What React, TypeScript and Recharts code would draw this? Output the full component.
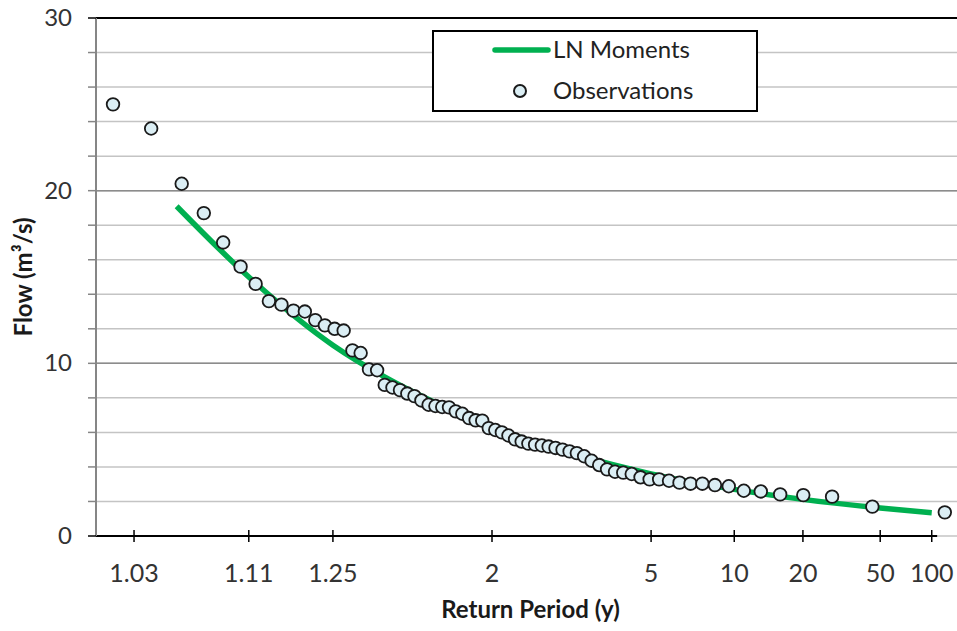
import React from 'react';
import { ComposedChart, Line, Scatter, XAxis, YAxis, CartesianGrid, ReferenceLine, Legend } from 'recharts';

// Return-period ticks on the probability axis
const tickPeriods = [1.03, 1.11, 1.25, 2, 5, 10, 20, 50, 100];
const tickLabels = ['1.03', '1.11', '1.25', '2', '5', '10', '20', '50', '100'];

const flowTicks = [0, 2, 4, 6, 8, 10, 12, 14, 16, 18, 20, 22, 24, 26, 28, 30];
const flowLabels = [0, 10, 20, 30];

// Observed flows and their plotting-position return periods
const obsPeriods = [
  1.023, 1.037, 1.053, 1.068, 1.084, 1.101, 1.118, 1.135, 1.153, 1.172,
  1.192, 1.212, 1.232, 1.254, 1.276, 1.299, 1.322, 1.347, 1.373, 1.399,
  1.427, 1.456, 1.486, 1.517, 1.549, 1.584, 1.619, 1.656, 1.695, 1.736,
  1.778, 1.824, 1.871, 1.921, 1.973, 2.028, 2.087, 2.149, 2.215, 2.285,
  2.36, 2.44, 2.525, 2.616, 2.714, 2.821, 2.935, 3.06, 3.195, 3.343,
  3.505, 3.685, 3.882, 4.103, 4.35, 4.63, 4.946, 5.311, 5.731, 6.227,
  6.812, 7.525, 8.396, 9.506, 10.94, 12.9, 15.7, 20.08, 27.78, 45.25, 120.5,
];
const obsFlows = [
  25.0, 23.6, 20.4, 18.7, 17.0, 15.6, 14.6, 13.6, 13.4, 13.05,
  13.0, 12.5, 12.2, 12.0, 11.9, 10.75, 10.6, 9.65, 9.6, 8.75,
  8.6, 8.45, 8.25, 8.1, 7.85, 7.6, 7.53, 7.47, 7.45, 7.22,
  7.08, 6.83, 6.7, 6.68, 6.25, 6.14, 6.0, 5.82, 5.6, 5.47,
  5.35, 5.29, 5.24, 5.18, 5.1, 5.0, 4.9, 4.8, 4.62, 4.36,
  4.11, 3.86, 3.72, 3.67, 3.59, 3.4, 3.28, 3.28, 3.2, 3.09,
  3.03, 3.03, 2.95, 2.88, 2.62, 2.58, 2.41, 2.37, 2.28, 1.7, 1.37,
];

// Lognormal (moments) fitted curve
const fitPeriods = [1.05, 1.11, 1.25, 1.4, 1.6, 2, 3, 5, 10, 20, 50, 100];
const fitFlows = [19.1, 15.0, 11.05, 9.2, 7.82, 6.3, 4.75, 3.6, 2.7, 2.12, 1.62, 1.35];

// inverse standard normal CDF (Acklam)
function probit(p: number): number {
  const a = [-39.69683028665376, 220.9460984245205, -275.9285104469687, 138.357751867269, -30.66479806614716, 2.506628277459239];
  const b = [-54.47609879822406, 161.5858368580409, -155.6989798598866, 66.80131188771972, -13.28068155288572];
  const c = [-0.007784894002430293, -0.3223964580411365, -2.400758277161838, -2.549732539343734, 4.374664141464968, 2.938163982698783];
  const d = [0.007784695709041462, 0.3224671290700398, 2.445134137142996, 3.754408661907416];
  const pl = 0.02425;
  if (p < pl) {
    const q = Math.sqrt(-2 * Math.log(p));
    return (((((c[0] * q + c[1]) * q + c[2]) * q + c[3]) * q + c[4]) * q + c[5]) / ((((d[0] * q + d[1]) * q + d[2]) * q + d[3]) * q + 1);
  }
  if (p <= 1 - pl) {
    const q = p - 0.5;
    const r = q * q;
    return ((((((a[0] * r + a[1]) * r + a[2]) * r + a[3]) * r + a[4]) * r + a[5]) * q) / (((((b[0] * r + b[1]) * r + b[2]) * r + b[3]) * r + b[4]) * r + 1);
  }
  const q = Math.sqrt(-2 * Math.log(1 - p));
  return -(((((c[0] * q + c[1]) * q + c[2]) * q + c[3]) * q + c[4]) * q + c[5]) / ((((d[0] * q + d[1]) * q + d[2]) * q + d[3]) * q + 1);
}

const toZ = (T: number) => probit(1 - 1 / T);

const obsData = obsPeriods.map((T, i) => ({ z: toZ(T), flow: obsFlows[i] }));
const fitData = fitPeriods.map((T, i) => ({ z: toZ(T), flow: fitFlows[i] }));
const tickZ = tickPeriods.map(toZ);

const X_MIN = -2.095;
const X_MAX = 2.46;
const AXIS_END = 2.355;

const FONT = 'Lato, "Open Sans", sans-serif';

const PeriodTick = (props: any) => {
  const { x, y, index } = props;
  return (
    <g>
      <line x1={x} x2={x} y1={y - 6} y2={y + 6} stroke="#000" strokeWidth={1.5} />
      <text x={x} y={y + 46} textAnchor="middle" fontSize={25} fontFamily={FONT} fill="#333">
        {tickLabels[index]}
      </text>
    </g>
  );
};

const FlowTick = (props: any) => {
  const { x, y, payload } = props;
  const v = payload.value;
  const dark = v === 0 || v === 30;
  return (
    <g>
      <line x1={x - 8} x2={x} y1={y} y2={y} stroke={dark ? '#000' : '#868686'} strokeWidth={1.5} />
      {flowLabels.includes(v) && (
        <text x={x - 24} y={y + 8} textAnchor="end" fontSize={24} fontFamily={FONT} fill="#333">
          {v}
        </text>
      )}
    </g>
  );
};

const LegendBox = () => (
  <div style={{ width: 322, height: 78, border: '2px solid #000', background: '#fff' }}>
    <svg width={322} height={78} style={{ display: 'block' }}>
      <line x1={61} x2={114} y1={18} y2={18} stroke="#00b050" strokeWidth={5.5} strokeLinecap="round" />
      <text x={119} y={26} fontSize={24} fontFamily={FONT} fill="#222">LN Moments</text>
      <circle cx={86} cy={59} r={6} fill="#dbeef4" stroke="#1a1a1a" strokeWidth={2} />
      <text x={119} y={67} fontSize={24} fontFamily={FONT} fill="#222">Observations</text>
    </svg>
  </div>
);

const ObsDot = (props: any) => {
  const { cx, cy } = props;
  return <circle cx={cx} cy={cy} r={6.3} fill="#dbeef4" stroke="#1a1a1a" strokeWidth={1.8} />;
};

export default function App() {
  return (
    <div style={{ position: 'absolute', left: 0, top: 0, fontFamily: FONT, background: '#fff' }}>
      <ComposedChart width={957} height={631} margin={{ top: 18, right: 0, bottom: 0, left: 0 }}>
        <CartesianGrid vertical={false} stroke="#c4c4c4" strokeWidth={1.5} />
        <XAxis
          type="number"
          dataKey="z"
          domain={[X_MIN, X_MAX]}
          ticks={tickZ}
          allowDataOverflow
          axisLine={false}
          tickLine={false}
          tickSize={0}
          tickMargin={0}
          height={95}
          interval={0}
          tick={<PeriodTick />}
          label={({ viewBox }: any) => (
            <text
              x={viewBox.x + viewBox.width / 2 + 4}
              y={viewBox.y + 82}
              textAnchor="middle"
              fontSize={24}
              fontWeight="bold"
              fontFamily={FONT}
              fill="#1a1a1a"
            >
              Return Period (y)
            </text>
          )}
        />
        <YAxis
          type="number"
          domain={[0, 30]}
          ticks={flowTicks}
          interval={0}
          width={96}
          axisLine={{ stroke: '#868686', strokeWidth: 2 }}
          tickLine={false}
          tickSize={0}
          tickMargin={0}
          tick={<FlowTick />}
          label={({ viewBox }: any) => (
            <text
              x={viewBox.x + 22}
              y={viewBox.y + viewBox.height / 2}
              transform={`rotate(-90 ${viewBox.x + 22} ${viewBox.y + viewBox.height / 2})`}
              textAnchor="middle"
              dominantBaseline="central"
              fontSize={24}
              fontWeight="bold"
              fontFamily={FONT}
              fill="#1a1a1a"
            >
              Flow (m³/s)
            </text>
          )}
        />
        <ReferenceLine y={10} stroke="#8c8c8c" strokeWidth={1.5} />
        <ReferenceLine y={20} stroke="#8c8c8c" strokeWidth={1.5} />
        <ReferenceLine y={30} stroke="#000" strokeWidth={2} />
        <ReferenceLine
          segment={[{ x: X_MIN, y: 0 }, { x: AXIS_END, y: 0 }]}
          stroke="#000"
          strokeWidth={2}
        />
        <Legend
          layout="vertical"
          align="center"
          verticalAlign="middle"
          content={<LegendBox />}
          wrapperStyle={{ left: 432, top: 30, width: 326, height: 82 }}
        />
        <Line
          data={fitData}
          dataKey="flow"
          type="monotone"
          stroke="#00b050"
          strokeWidth={5.5}
          dot={false}
          activeDot={false}
          isAnimationActive={false}
        />
        <Scatter data={obsData} dataKey="flow" shape={<ObsDot />} isAnimationActive={false} />
      </ComposedChart>
    </div>
  );
}
